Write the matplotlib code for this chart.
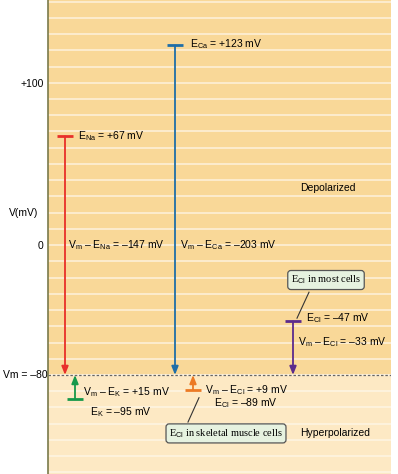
import numpy as np
import matplotlib.pyplot as plt
from matplotlib.patches import Rectangle

plt.rcParams['font.family'] = ['Liberation Sans', 'DejaVu Sans']
plt.rcParams['mathtext.fontset'] = 'custom'
plt.rcParams['mathtext.rm'] = 'Liberation Sans'
plt.rcParams['mathtext.it'] = 'Liberation Sans'

# equilibrium potentials (mV)
vm = -80
ions = ['Na', 'Ca', 'Cl_most', 'K', 'Cl_skel']
e_rev = [67, 123, -47, -95, -89]
x_pos = [65, 175, 293, 75, 193]
colors = ['#e8302a', '#1f6ea8', '#5b2b8c', '#16994a', '#ec7a25']
yticks = [100, 0]
ytick_labels = ['+100', '0']

fig = plt.figure(figsize=(3.98, 4.74), dpi=100)
ax = fig.add_axes([48 / 398, 0, 343 / 398, 1])
ymin, ymax = -141, 151
ax.set_xlim(0, 343)
ax.set_ylim(ymin, ymax)

# background bands
ax.add_patch(Rectangle((0, vm), 343, ymax - vm, color='#f9d898', zorder=0))
ax.add_patch(Rectangle((0, ymin), 343, vm - ymin, color='#fde9c4', zorder=0))
for y in np.arange(-140, 151, 10):
    ax.axhline(y, color='#fdeed2' if y > vm else '#fef3df', lw=1.3, zorder=1)
ax.axhline(vm, color='#666666', lw=0.9, ls=(0, (2, 1.5)), zorder=2)

for s in ['top', 'right', 'bottom']:
    ax.spines[s].set_visible(False)
ax.spines['left'].set_color('#7a7a4a')
ax.spines['left'].set_linewidth(1.2)
ax.set_xticks([])
ax.set_yticks(yticks)
ax.set_yticklabels(ytick_labels, fontsize=7.5)
ax.tick_params(axis='y', length=0, pad=3)
ax.text(-10, 20, 'V(mV)', fontsize=7.5, ha='right', va='center', clip_on=False)
ax.text(-45, vm, 'Vm = \u201380', fontsize=7.5, ha='left', va='center', clip_on=False)

xo = 48
for e, x, c in zip(e_rev, x_pos, colors):
    x = x - xo
    ax.plot([x - 8, x + 8], [e, e], color=c, lw=2, solid_capstyle='butt', zorder=3)
    ax.annotate('', xy=(x, vm), xytext=(x, e),
                arrowprops=dict(arrowstyle='-|>,head_length=0.5,head_width=0.2',
                                color=c, lw=1.3, shrinkA=0, shrinkB=0), zorder=3)

fs = 7.5
d = '\u2013'
ax.text(78 - xo, 67, r'E$_{\rm Na}$ = +67 mV', fontsize=fs, va='center')
ax.text(190 - xo, 124, r'E$_{\rm Ca}$ = +123 mV', fontsize=fs, va='center')
ax.text(68 - xo, 0, r'V$_{\rm m}$ ' + d + r' E$_{\rm Na}$ = ' + d + '147 mV', fontsize=fs, va='center')
ax.text(180 - xo, 0, r'V$_{\rm m}$ ' + d + r' E$_{\rm Ca}$ = ' + d + '203 mV', fontsize=fs, va='center')
ax.text(306 - xo, -45, r'E$_{\rm Cl}$ = ' + d + '47 mV', fontsize=fs, va='center')
ax.text(298 - xo, -60, r'V$_{\rm m}$ ' + d + r' E$_{\rm Cl}$ = ' + d + '33 mV', fontsize=fs, va='center')
ax.text(83 - xo, -90.5, r'V$_{\rm m}$ ' + d + r' E$_{\rm K}$ = +15 mV', fontsize=fs, va='center')
ax.text(90 - xo, -103, r'E$_{\rm K}$ = ' + d + '95 mV', fontsize=fs, va='center')
ax.text(205 - xo, -89.5, r'V$_{\rm m}$ ' + d + r' E$_{\rm Cl}$ = +9 mV', fontsize=fs, va='center')
ax.text(214 - xo, -97.5, r'E$_{\rm Cl}$ = ' + d + '89 mV', fontsize=fs, va='center')
ax.text(300 - xo, 35, 'Depolarized', fontsize=fs, va='center')
ax.text(300 - xo, -116, 'Hyperpolarized', fontsize=fs, va='center')

box = dict(boxstyle='round,pad=0.3,rounding_size=0.3', fc='#e6f2e0', ec='#555555', lw=0.9)
ax.text(326 - xo, -21.5, r'E$_{\rm Cl}$ in most cells', fontsize=fs, ha='center', va='center',
        family=['Liberation Serif', 'DejaVu Serif'], bbox=box, zorder=5)
ax.plot([309 - xo, 297 - xo], [-29, -45], color='#333333', lw=0.8, zorder=4)
ax.text(226 - xo, -116, r'E$_{\rm Cl}$ in skeletal muscle cells', fontsize=fs, ha='center', va='center',
        family=['Liberation Serif', 'DejaVu Serif'], bbox=box, zorder=5)
ax.plot([199 - xo, 188 - xo], [-94, -109], color='#333333', lw=0.8, zorder=4)

fig.savefig('out.png', dpi=100)
